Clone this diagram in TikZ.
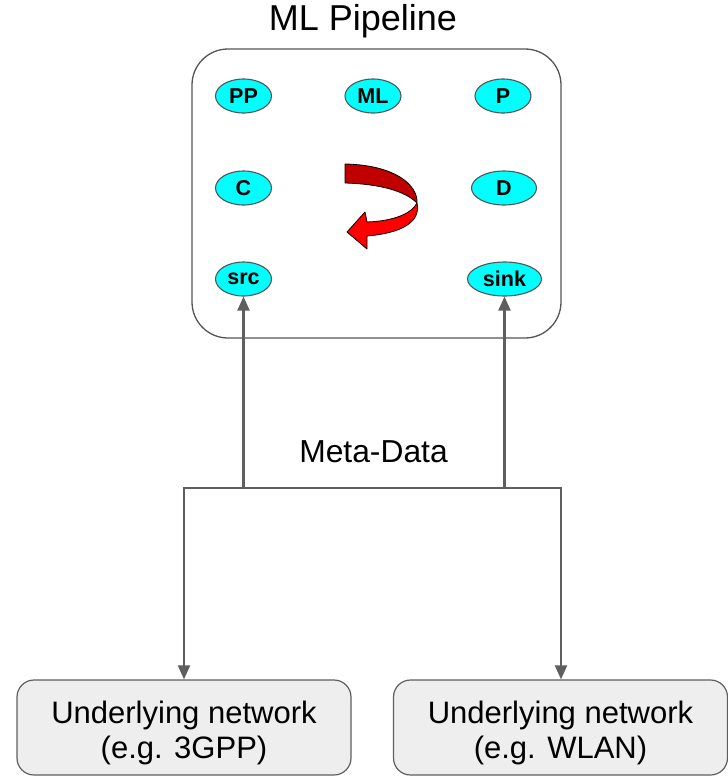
\documentclass[tikz,border=0pt]{standalone}
\usepackage{fontspec}
\setmainfont{Liberation Sans}
\usetikzlibrary{arrows.meta,shapes.geometric}
\definecolor{edgegray}{HTML}{5F5F5F}
\definecolor{boxgray}{HTML}{555555}
\definecolor{netfill}{HTML}{EEEEEE}
\definecolor{darkred}{HTML}{C00000}
\definecolor{brightred}{HTML}{FF0000}
\definecolor{aqua}{HTML}{00FFFF}
\tikzset{
  pnode/.style={ellipse, draw=boxgray, line width=1.1pt, fill=aqua, inner sep=0pt,
    minimum width=56pt, minimum height=34pt, font=\fontsize{21.5}{23}\selectfont\bfseries},
  mainbox/.style={rectangle, draw=boxgray, line width=1.3pt, rounded corners=36pt,
    minimum width=369pt, minimum height=289pt, inner sep=0pt},
  netbox/.style={rectangle, draw=edgegray, line width=1.2pt, fill=netfill, rounded corners=17pt,
    minimum width=334pt, minimum height=95pt, inner sep=0pt},
  nettext/.style={align=center, font=\fontsize{31}{35}\selectfont, inner sep=0pt},
  conn/.style={draw=edgegray, line width=2.2pt},
  arr/.style={conn, -{Triangle[width=12pt,length=14pt]}},
}
\begin{document}
\begin{tikzpicture}[x=1pt,y=-1pt]
\useasboundingbox (0,0) rectangle (728,777);
% title
\node[anchor=base, inner sep=0pt, font=\fontsize{36}{40}\selectfont] (title) at (363,30) {ML Pipeline};
% pipeline box
\node[mainbox] (pipe) at (376.5,193.5) {};
% pipeline elements
\node[pnode] (pp) at (243.5,96) {PP};
\node[pnode] (ml) at (373,96) {ML};
\node[pnode] (p) at (503,96) {P};
\node[pnode] (c) at (243.5,188) {C};
\node[pnode, minimum width=65pt] (d) at (504,188) {D};
\node[pnode] (src) at (243.5,279) {src};
\node[pnode, minimum width=74pt] (sink) at (504.5,279) {sink};
% red loop arrow
\fill[darkred, draw=black, line width=0.8pt, line join=round]
  (345,164) .. controls (395,165) and (418,185) .. (417,203)
  .. controls (405,191) and (380,184) .. (345,183) -- cycle;
\fill[brightred, draw=black, line width=0.8pt, line join=round]
  (417,203) .. controls (412,213) and (395,221) .. (367,222)
  -- (365,212) -- (347,232) -- (367,249) -- (367,236)
  .. controls (402,233) and (421,222) .. (417,203) -- cycle;
% meta-data label
\node[anchor=base, inner sep=0pt, font=\fontsize{31.8}{34}\selectfont] (meta) at (373.5,462.7) {Meta-Data};
% networks
\node[netbox] (net1) at (184,727.5) {};
\node[netbox] (net2) at (560.5,727.5) {};
\node[nettext] (t1) at (184,732.5) {Underlying network\\(e.g. 3GPP)};
\node[nettext] (t2) at (560.5,732.5) {Underlying network\\(e.g. WLAN)};
% connectors
\coordinate (jl) at (184,488);
\coordinate (jr) at (561,488);
\coordinate (js) at (243.5,488);
\coordinate (jk) at (504.5,488);
\draw[conn] ([xshift=-1.1pt]jl) -- ([xshift=1.1pt]jr);
\draw[arr] (js) -- (src);
\draw[arr] (jk) -- (sink);
\draw[arr] (jl) -- (jl |- net1.north);
\draw[arr] (jr) -- (jr |- net2.north);
\end{tikzpicture}
\end{document}
